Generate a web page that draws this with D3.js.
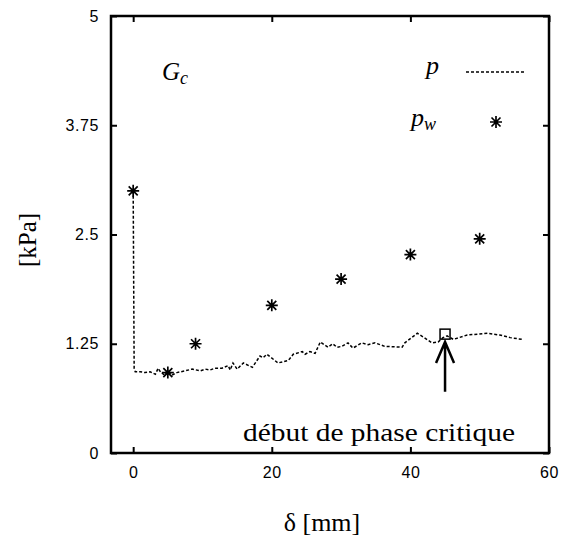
<!DOCTYPE html>
<html>
<head>
<meta charset="utf-8">
<style>
    body { margin: 0; background: #fff; }
    svg { display: block; }
    .tick text { font-family: "Liberation Sans", Arial, sans-serif; font-size: 16px; letter-spacing: 0.6px; fill: #000; }
    .axis .domain { display: none; }
    .serif { font-family: "Liberation Serif", "Times New Roman", serif; fill: #000; }
</style>
</head>
<body>
<svg width="561" height="545"></svg>
<script src="https://d3js.org/d3.v7.min.js"></script>
<script>
    // measured pressure p along displacement delta
    let pDelta = [0, 0.14, 0.3, 1.0, 1.7, 2.45, 3.2, 3.6, 4.0, 4.6, 5.0, 5.6, 6.3, 7.5, 8.5, 9.7, 10.4, 11.1, 11.8, 12.8,
        13.7, 14.0, 14.4, 15.0, 15.9, 17.2, 18.3, 18.75, 19.3, 20.9, 22.4, 23.1, 24.4, 24.8, 25.5, 26.25, 27.0, 28.1,
        28.8, 29.4, 30.1, 31.0, 31.7, 33.0, 33.9, 34.9, 36.3, 38.8, 39.2, 41.0, 41.8, 43.1, 44.0, 44.7, 45.3, 46.2,
        48.2, 51.1, 52.9, 54.4, 56.1]
    let pValue = [3.0, 0.97, 0.93, 0.93, 0.92, 0.93, 0.90, 0.97, 0.92, 0.89, 0.94, 0.89, 0.92, 0.94, 0.96, 0.94, 0.96, 0.95, 0.97, 0.97,
        1.00, 0.95, 1.03, 0.96, 1.03, 0.98, 1.11, 1.09, 1.13, 1.03, 1.06, 1.13, 1.16, 1.13, 1.16, 1.14, 1.27, 1.21,
        1.25, 1.21, 1.22, 1.26, 1.20, 1.26, 1.24, 1.26, 1.22, 1.21, 1.26, 1.37, 1.33, 1.26, 1.27, 1.32, 1.34, 1.30,
        1.35, 1.37, 1.35, 1.32, 1.30]

    // p_w points
    let pwDelta = [0, 5, 9, 20, 30, 40, 50]
    let pwValue = [3.0, 0.92, 1.25, 1.69, 1.99, 2.27, 2.45]

    // start of critical phase
    let critDelta = 45
    let critValue = 1.36
    let arrowFrom = 0.7
    let arrowTo = 1.27

    let xTicks = [0, 20, 40, 60]
    let yTicks = [0, 1.25, 2.5, 3.75, 5]

    let margin = { top: 16, right: 12, bottom: 92, left: 111 }
    let width = 561, height = 545

    let svg = d3.select("svg")

    let x = d3.scaleLinear().domain([-3.2, 60]).range([margin.left, width - margin.right])
    let y = d3.scaleLinear().domain([0, 5]).range([height - margin.bottom, margin.top])

    let x0 = x.range()[0], x1 = x.range()[1], y0 = y.range()[0], y1 = y.range()[1]

    // axes with inward ticks
    svg.append("g").attr("class", "axis")
        .attr("transform", `translate(0,${y0})`)
        .call(d3.axisBottom(x).tickValues(xTicks).tickSize(-6).tickPadding(14).tickFormat(d3.format("d")))
    svg.append("g").attr("class", "axis")
        .attr("transform", `translate(0,${y1})`)
        .call(d3.axisTop(x).tickValues(xTicks).tickSize(-6).tickFormat(""))
    svg.append("g").attr("class", "axis")
        .attr("transform", `translate(${x0},0)`)
        .call(d3.axisLeft(y).tickValues(yTicks).tickSize(-6).tickPadding(12).tickFormat(d => d3.format("")(d)))
    svg.append("g").attr("class", "axis")
        .attr("transform", `translate(${x1},0)`)
        .call(d3.axisRight(y).tickValues(yTicks).tickSize(-6).tickFormat(""))

    svg.selectAll(".tick line").attr("stroke", "#000").attr("stroke-width", 2)

    // frame
    svg.append("rect")
        .attr("x", x0).attr("y", y1)
        .attr("width", x1 - x0).attr("height", y0 - y1)
        .attr("fill", "none").attr("stroke", "#000").attr("stroke-width", 2.5)

    // p curve
    let line = d3.line().x(d => x(d[0])).y(d => y(d[1]))
    svg.append("path")
        .datum(d3.zip(pDelta, pValue))
        .attr("d", line)
        .attr("fill", "none")
        .attr("stroke", "#000")
        .attr("stroke-width", 1.5)
        .attr("stroke-dasharray", "3,2")

    // asterisk marker
    function star(g, cx, cy, r) {
        let a = r * 0.75
        g.append("path")
            .attr("d", `M${cx - r},${cy}H${cx + r}M${cx},${cy - r}V${cy + r}` +
                `M${cx - a},${cy - a}L${cx + a},${cy + a}M${cx - a},${cy + a}L${cx + a},${cy - a}`)
            .attr("stroke", "#000").attr("stroke-width", 1.7).attr("fill", "none")
    }

    let pts = svg.append("g")
    d3.zip(pwDelta, pwValue).forEach(d => star(pts, x(d[0]), y(d[1]), 6))

    // critical phase marker and arrow
    svg.append("rect")
        .attr("x", x(critDelta) - 5).attr("y", y(critValue) - 5)
        .attr("width", 10).attr("height", 10)
        .attr("fill", "none").attr("stroke", "#000").attr("stroke-width", 1.5)

    let ax = x(critDelta), ay0 = y(arrowFrom), ay1 = y(arrowTo)
    svg.append("path")
        .attr("d", `M${ax},${ay0}V${ay1}M${ax - 9},${ay1 + 21}L${ax},${ay1}L${ax + 9},${ay1 + 21}`)
        .attr("fill", "none").attr("stroke", "#000").attr("stroke-width", 2.5)

    svg.append("text").attr("class", "serif")
        .attr("x", 243).attr("y", 441)
        .attr("font-size", 26)
        .attr("textLength", 272)
        .attr("lengthAdjust", "spacingAndGlyphs")
        .text("début de phase critique")

    // labels
    let gc = svg.append("text").attr("class", "serif")
        .attr("x", 162).attr("y", 80).attr("font-size", 25)
    gc.append("tspan").attr("font-style", "italic").text("G")
    gc.append("tspan").attr("font-style", "italic").attr("font-size", 18).attr("dy", 4).text("c")

    // legend
    svg.append("text").attr("class", "serif")
        .attr("x", 426).attr("y", 74).attr("font-size", 26).attr("font-style", "italic").text("p")
    svg.append("line")
        .attr("x1", 466).attr("x2", 524).attr("y1", 72).attr("y2", 72)
        .attr("stroke", "#000").attr("stroke-width", 1.5).attr("stroke-dasharray", "3,2")

    let pw = svg.append("text").attr("class", "serif")
        .attr("x", 411).attr("y", 126).attr("font-size", 26).attr("font-style", "italic")
    pw.append("tspan").text("p")
    pw.append("tspan").attr("font-size", 18).attr("dy", 4).text("w")
    star(svg, 496, 122, 6)

    svg.append("text").attr("class", "serif")
        .attr("transform", "translate(36,240) rotate(-90)")
        .attr("text-anchor", "middle")
        .attr("font-size", 25)
        .text("[kPa]")

    svg.append("text").attr("class", "serif")
        .attr("x", 322).attr("y", 531)
        .attr("text-anchor", "middle")
        .attr("font-size", 26)
        .text("δ [mm]")
</script>
</body>
</html>
